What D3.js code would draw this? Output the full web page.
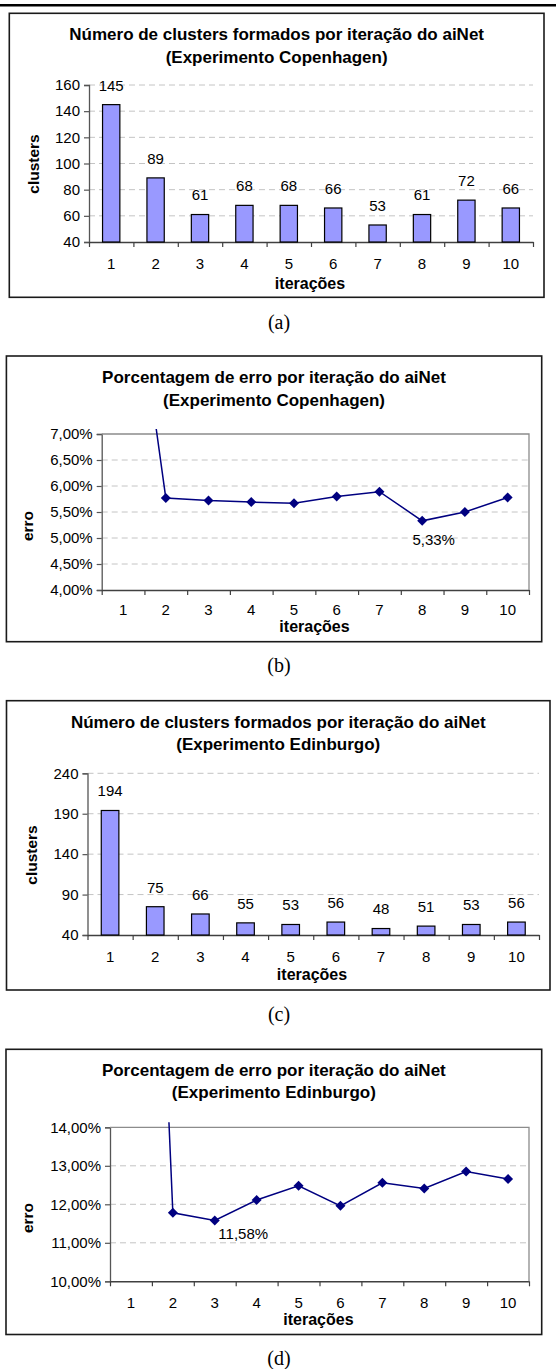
<!DOCTYPE html>
<html>
<head>
<meta charset="utf-8">
<script src="https://cdn.jsdelivr.net/npm/d3@7"></script>
<style>
  html, body { margin: 0; padding: 0; background: #fff; }
  svg { display: block; }
</style>
</head>
<body>
<svg id="fig" width="556" height="1369"></svg>
<script>
// ---------------- DATA ----------------
const iteracoes = [1, 2, 3, 4, 5, 6, 7, 8, 9, 10];

const clustersCopenhagen = [145, 89, 61, 68, 68, 66, 53, 61, 72, 66];
const clustersEdinburgo  = [194, 75, 66, 55, 53, 56, 48, 51, 53, 56];

const erroCopenhagen = [11.7, 5.77, 5.72, 5.69, 5.67, 5.80, 5.89, 5.33, 5.50, 5.78];
const erroEdinburgo  = [37.0, 11.78, 11.58, 12.11, 12.48, 11.96, 12.56, 12.41, 12.85, 12.66];

const ticksClustersA = [40, 60, 80, 100, 120, 140, 160];
const ticksClustersC = [40, 90, 140, 190, 240];
const ticksErroB = [4.0, 4.5, 5.0, 5.5, 6.0, 6.5, 7.0];
const ticksErroD = [10, 11, 12, 13, 14];

const titlesA = ["Número de clusters formados por iteração do aiNet", "(Experimento Copenhagen)"];
const titlesB = ["Porcentagem de erro por iteração do aiNet", "(Experimento Copenhagen)"];
const titlesC = ["Número de clusters formados por iteração do aiNet", "(Experimento Edinburgo)"];
const titlesD = ["Porcentagem de erro por iteração do aiNet", "(Experimento Edinburgo)"];

// ---------------- STYLE ----------------
const SANS = "'Liberation Sans', Arial, Helvetica, sans-serif";
const SERIF = "'Liberation Serif', 'Times New Roman', serif";
const ptBR = d3.formatLocale({decimal: ",", thousands: ".", grouping: [3], currency: ["R$", ""]});
const pct = ptBR.format(".2f");
const NUM_FS = 15;

const svg = d3.select("#fig");
svg.append("rect").attr("width", 556).attr("height", 1369).attr("fill", "#fff");

// top rule
svg.append("line").attr("x1", 0).attr("x2", 556).attr("y1", 5.3).attr("y2", 5.3)
  .attr("stroke", "#000").attr("stroke-width", 2.6);

function frame(g, c) {
  g.append("rect")
    .attr("x", c.box[0]).attr("y", c.box[1])
    .attr("width", c.box[2] - c.box[0]).attr("height", c.box[3] - c.box[1])
    .attr("fill", "#fff").attr("stroke", "#1a1a1a").attr("stroke-width", 1.6);
  const tcx = (c.box[0] + c.box[2]) / 2;
  c.titles.forEach((t, i) => {
    g.append("text").attr("x", tcx).attr("y", c.titleY[i]).attr("dy", "0.36em")
      .attr("text-anchor", "middle").attr("font-family", SANS).attr("font-weight", "bold")
      .attr("font-size", 17).attr("fill", "#000").text(t);
  });
  // axis titles
  g.append("text").attr("transform", `translate(${c.yTitle[0]},${c.yTitle[1]}) rotate(-90)`)
    .attr("dy", "0.36em").attr("text-anchor", "middle").attr("font-family", SANS)
    .attr("font-weight", "bold").attr("font-size", 15.5).attr("fill", "#000").text(c.yLabel);
  g.append("text").attr("x", c.xTitle[0]).attr("y", c.xTitle[1]).attr("dy", "0.36em")
    .attr("text-anchor", "middle").attr("font-family", SANS)
    .attr("font-weight", "bold").attr("font-size", 16).attr("fill", "#000").text("iterações");
  // caption
  g.append("text").attr("x", c.caption[0]).attr("y", c.caption[1]).attr("dy", "0.36em")
    .attr("text-anchor", "middle").attr("font-family", SERIF).attr("font-size", 20)
    .attr("fill", "#000").text(c.captionText);
}

function axes(g, c, x, y, fmt, gridTicks) {
  const [x0, x1] = c.px, [y0, y1] = c.py;
  // gridlines
  g.append("g").selectAll("line").data(gridTicks).join("line")
    .attr("x1", x0).attr("x2", x1).attr("y1", d => y(d)).attr("y2", d => y(d))
    .attr("stroke", "#c4c4c4").attr("stroke-width", 1).attr("stroke-dasharray", "6,4");
  // y axis
  const ya = g.append("g").attr("transform", `translate(${x0},0)`)
    .call(d3.axisLeft(y).tickValues(c.ticks).tickFormat(fmt).tickSize(5).tickPadding(4));
  ya.selectAll("path.domain").attr("stroke", "#555").attr("stroke-width", 1.3);
  ya.selectAll(".tick line").attr("stroke", "#555").attr("stroke-width", 1.2);
  ya.selectAll("text").attr("font-family", SANS).attr("font-size", NUM_FS).attr("fill", "#000");
  // x axis: boundary ticks
  const xb = d3.scaleLinear().domain([0, iteracoes.length]).range([x0, x1]);
  const xa = g.append("g").attr("transform", `translate(0,${y0})`)
    .call(d3.axisBottom(xb).tickValues(d3.range(0, iteracoes.length + 1)).tickFormat("").tickSize(5).tickSizeOuter(0));
  xa.selectAll("path.domain").attr("stroke", "#404040").attr("stroke-width", 1.6);
  xa.selectAll(".tick line").attr("stroke", "#404040").attr("stroke-width", 1.2);
  // x labels
  const xl = g.append("g").attr("transform", `translate(0,${c.xLabelY})`)
    .call(d3.axisBottom(x).tickSize(0).tickPadding(0));
  xl.select("path.domain").remove();
  xl.selectAll("text").attr("dy", "0.36em").attr("font-family", SANS).attr("font-size", NUM_FS).attr("fill", "#000");
}

function barChart(c) {
  const g = svg.append("g");
  frame(g, c);
  const x = d3.scaleBand().domain(iteracoes).range(c.px).paddingInner(0).paddingOuter(0);
  const y = d3.scaleLinear().domain(c.domain).range([c.py[0], c.py[1]]);
  axes(g, c, x, y, d3.format("d"), c.ticks.slice(1));
  const bw = x.bandwidth() * 0.39;
  g.append("g").selectAll("rect").data(c.values).join("rect")
    .attr("x", (d, i) => x(iteracoes[i]) + (x.bandwidth() - bw) / 2)
    .attr("y", d => y(d)).attr("width", bw).attr("height", d => y(c.domain[0]) - y(d))
    .attr("fill", "#9999ff").attr("stroke", "#000").attr("stroke-width", 1.2);
  g.append("g").selectAll("text").data(c.values).join("text")
    .attr("x", (d, i) => x(iteracoes[i]) + x.bandwidth() / 2)
    .attr("y", d => y(d) - 19.5).attr("dy", "0.36em")
    .attr("text-anchor", "middle").attr("font-family", SANS).attr("font-size", NUM_FS).attr("fill", "#000")
    .text(d => d);
}

function lineChart(c) {
  const g = svg.append("g");
  frame(g, c);
  const x = d3.scaleBand().domain(iteracoes).range(c.px);
  const y = d3.scaleLinear().domain(c.domain).range([c.py[0], c.py[1]]);
  axes(g, c, x, y, d => pct(d) + "%", c.ticks.slice(1, -1));
  // plot area border (top & right)
  g.append("path")
    .attr("d", `M${c.px[0]},${y(c.domain[1])}H${c.px[1]}V${c.py[0]}`)
    .attr("fill", "none").attr("stroke", "#8c8c8c").attr("stroke-width", 1.3);
  const clipId = "clip" + c.captionText.replace(/\W/g, "");
  g.append("clipPath").attr("id", clipId).append("rect")
    .attr("x", c.px[0]).attr("y", y(c.domain[1]) - 5)
    .attr("width", c.px[1] - c.px[0]).attr("height", c.py[0] - y(c.domain[1]) + 5);
  const cx = i => x(iteracoes[i]) + x.bandwidth() / 2;
  const line = d3.line().x((d, i) => cx(i)).y(d => y(d));
  g.append("path").datum(c.values).attr("clip-path", `url(#${clipId})`)
    .attr("d", line).attr("fill", "none").attr("stroke", "#000080").attr("stroke-width", 1.5);
  const sym = d3.symbol().type(d3.symbolSquare).size(50);
  const pts = c.values.map((v, i) => ({v, i})).filter(p => p.v <= c.domain[1]);
  g.append("g").selectAll("path").data(pts).join("path")
    .attr("transform", p => `translate(${cx(p.i)},${y(p.v)}) rotate(45)`)
    .attr("d", sym).attr("fill", "#000080");
  // min label
  const mi = c.values.indexOf(d3.min(c.values));
  g.append("text").attr("x", cx(mi) + c.labelOff[0]).attr("y", y(c.values[mi]) + c.labelOff[1])
    .attr("dy", "0.36em").attr("text-anchor", "middle").attr("font-family", SANS)
    .attr("font-size", NUM_FS).attr("fill", "#000").text(pct(c.values[mi]) + "%");
}

barChart({
  box: [9.3, 13.3, 544, 297.3], titles: titlesA, titleY: [33.5, 56.5],
  px: [89, 533], py: [242, 85], domain: [40, 160], ticks: ticksClustersA, values: clustersCopenhagen,
  yLabel: "clusters", yTitle: [33.7, 164], xTitle: [310, 283], xLabelY: 264,
  caption: [279, 322], captionText: "(a)"
});
lineChart({
  box: [6.4, 356, 541.7, 641.7], titles: titlesB, titleY: [376.7, 400],
  px: [101.7, 529], py: [590, 434], domain: [4, 7], ticks: ticksErroB, values: erroCopenhagen,
  yLabel: "erro", yTitle: [27.7, 526], xTitle: [314.5, 626], xLabelY: 609.5,
  caption: [279, 665], captionText: "(b)", labelOff: [11.5, 18.6]
});
barChart({
  box: [6.5, 700.7, 550, 990], titles: titlesC, titleY: [721.7, 744.3],
  px: [87.5, 539], py: [935, 773.3], domain: [40, 240], ticks: ticksClustersC, values: clustersEdinburgo,
  yLabel: "clusters", yTitle: [31.2, 855], xTitle: [312, 974], xLabelY: 956.7,
  caption: [279, 1013.3], captionText: "(c)"
});
lineChart({
  box: [6, 1049.3, 541.7, 1334.5], titles: titlesD, titleY: [1069.5, 1092],
  px: [110, 529], py: [1281.3, 1127.3], domain: [10, 14], ticks: ticksErroD, values: erroEdinburgo,
  yLabel: "erro", yTitle: [27.7, 1218], xTitle: [318.4, 1319], xLabelY: 1302.7,
  caption: [279, 1358], captionText: "(d)", labelOff: [28.5, 13.6]
});
</script>
</body>
</html>
